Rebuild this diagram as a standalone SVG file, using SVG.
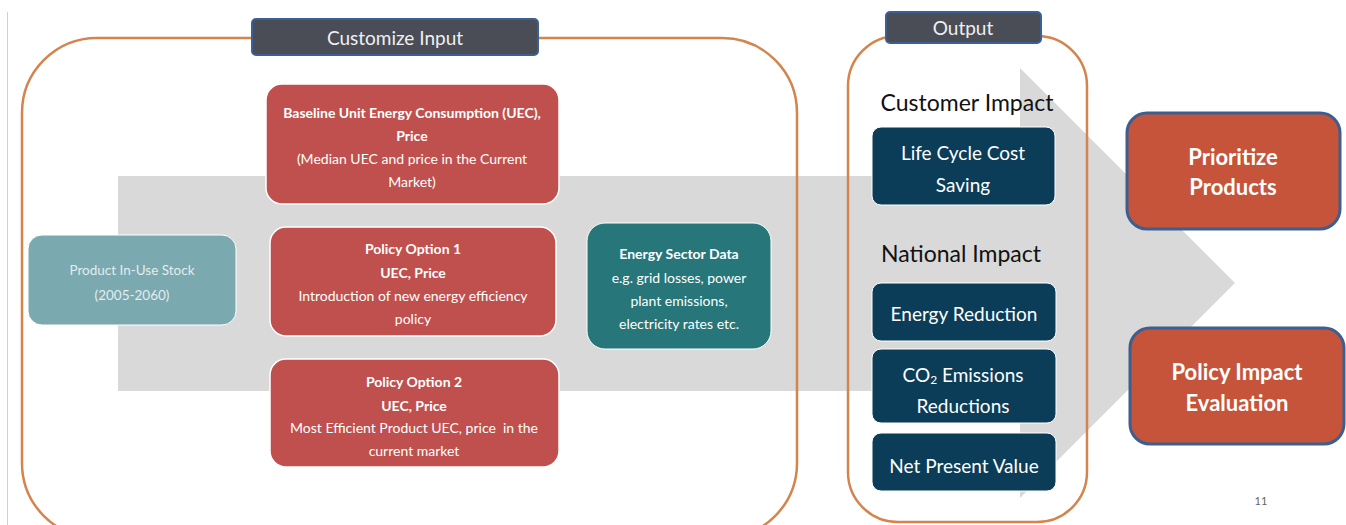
<svg xmlns="http://www.w3.org/2000/svg" width="1346" height="525" viewBox="0 0 1346 525">
<style>
text{font-family:Lato,"Open Sans","Liberation Sans",sans-serif;text-anchor:middle;dominant-baseline:central}
.frame{fill:none;stroke:#d4844d;stroke-width:2.5}
.hdr{fill:#4a4d55;stroke:#3a6096;stroke-width:2}
.hdrt{fill:#eef0f2;font-size:19px}
.red{fill:#c0504d;stroke:#ffffff;stroke-width:1.5}
.rt{fill:#ffffff;font-size:14px}
.b{font-weight:bold}
.dk{fill:#0b3d58;stroke:#ffffff;stroke-width:1}
.dt{fill:#ffffff;font-size:19px}
.big{fill:#c6543a;stroke:#3c5f8f;stroke-width:3}
.bt{fill:#ffffff;font-size:22px;font-weight:bold}
.sec{fill:#111111;font-size:23px}
</style>
<rect width="1346" height="525" fill="#ffffff"/>
<line x1="7.5" y1="12" x2="7.5" y2="525" stroke="#d0d0d0" stroke-width="1"/>
<polygon id="bigArrow" points="118,176 1020,176 1020,68 1235,283 1020,498 1020,391 118,391" fill="#d9d9d9"/>
<g id="customize-frame">
<rect class="frame" x="22" y="38" width="775" height="500" rx="75"/>
<rect class="hdr" x="252" y="19" width="286" height="36" rx="4"/>
<text class="hdrt" x="395" y="37">Customize Input</text>
</g>
<g id="output-frame">
<rect class="frame" x="848" y="36" width="239" height="486" rx="50"/>
<rect class="hdr" x="886" y="12" width="155" height="31" rx="4"/>
<text class="hdrt" x="963" y="27">Output</text>
</g>
<g id="stock">
<rect x="28" y="235" width="208" height="90" rx="14" fill="#7aa9b0" stroke="#ffffff" stroke-width="1"/>
<text x="132" y="270" fill="#e4ecee" font-size="13.5">Product In-Use Stock</text>
<text x="132" y="295" fill="#e4ecee" font-size="13.5">(2005-2060)</text>
</g>
<g id="baseline">
<rect class="red" x="266" y="84" width="293" height="120" rx="16"/>
<text class="rt b" x="412" y="112">Baseline Unit Energy Consumption (UEC),</text>
<text class="rt b" x="412" y="135">Price</text>
<text class="rt" x="412" y="158">(Median UEC and price in the Current</text>
<text class="rt" x="412" y="181">Market)</text>
</g>
<g id="policy1">
<rect class="red" x="270" y="227" width="286" height="109" rx="16"/>
<text class="rt b" x="413" y="248">Policy Option 1</text>
<text class="rt b" x="413" y="272">UEC, Price</text>
<text class="rt" x="413" y="295">Introduction of new energy efficiency</text>
<text class="rt" x="413" y="318">policy</text>
</g>
<g id="policy2">
<rect class="red" x="270" y="359" width="289" height="108" rx="16"/>
<text class="rt b" x="414" y="381">Policy Option 2</text>
<text class="rt b" x="414" y="405">UEC, Price</text>
<text class="rt" x="414" y="427" xml:space="preserve">Most Efficient Product UEC, price  in the</text>
<text class="rt" x="414" y="450">current market</text>
</g>
<g id="energy-sector">
<rect x="587" y="223" width="184" height="126" rx="18" fill="#26767a" stroke="#ffffff" stroke-width="1"/>
<text class="rt b" x="679" y="253">Energy Sector Data</text>
<text class="rt" x="679" y="277">e.g. grid losses, power</text>
<text class="rt" x="679" y="300">plant emissions,</text>
<text class="rt" x="679" y="323">electricity rates etc.</text>
</g>
<g id="customer-impact">
<text class="sec" x="967" y="102">Customer Impact</text>
</g>
<g id="lcc">
<rect class="dk" x="872" y="127" width="183" height="78" rx="9"/>
<text class="dt" x="963" y="152">Life Cycle Cost</text>
<text class="dt" x="963" y="184">Saving</text>
</g>
<g id="national-impact">
<text class="sec" x="961" y="253">National Impact</text>
</g>
<g id="energy-reduction">
<rect class="dk" x="872" y="283" width="184" height="58" rx="9"/>
<text class="dt" x="964" y="313">Energy Reduction</text>
</g>
<g id="co2">
<rect class="dk" x="872" y="349" width="184" height="74" rx="9"/>
<text class="dt" x="963" y="374">CO<tspan font-size="12" dy="5">2</tspan><tspan dy="-5"> Emissions</tspan></text>
<text class="dt" x="963" y="405">Reductions</text>
</g>
<g id="npv">
<rect class="dk" x="872" y="433" width="184" height="58" rx="9"/>
<text class="dt" x="964" y="465">Net Present Value</text>
</g>
<g id="prioritize">
<rect class="big" x="1127" y="113" width="213" height="116" rx="20"/>
<text class="bt" x="1233" y="156">Prioritize</text>
<text class="bt" x="1233" y="186">Products</text>
</g>
<g id="policy-impact">
<rect class="big" x="1130" y="328" width="214" height="116" rx="20"/>
<text class="bt" x="1237" y="371">Policy Impact</text>
<text class="bt" x="1237" y="402">Evaluation</text>
</g>
<g id="connectors"></g>
<text x="1261" y="500" fill="#666666" font-size="11">11</text>
</svg>
